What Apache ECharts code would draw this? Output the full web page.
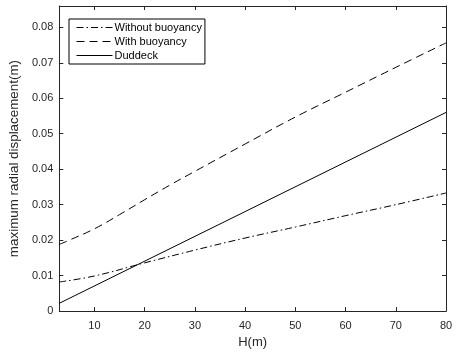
<!DOCTYPE html>
<html>
<head>
<meta charset="utf-8">
<script src="https://cdn.jsdelivr.net/npm/echarts@6/dist/echarts.min.js"></script>
<style>html,body{margin:0;padding:0;background:#fff}#c{width:458px;height:354px}</style>
</head>
<body>
<div id="c"></div>
<script>
var xTicks = [10, 20, 30, 40, 50, 60, 70, 80];
var yTicks = [0, 0.01, 0.02, 0.03, 0.04, 0.05, 0.06, 0.07, 0.08];

var xWithout = [3, 10, 20, 30, 40, 50, 60, 70, 80];
var yWithout = [0.0082, 0.0099, 0.0136, 0.0172, 0.0206, 0.0237, 0.0269, 0.0300, 0.0333];

var xWith = [3, 5, 10, 15, 20, 25, 30, 40, 50, 60, 70, 80];
var yWith = [0.0188, 0.0200, 0.0232, 0.0272, 0.0314, 0.0355, 0.0394, 0.0471, 0.0547, 0.0617, 0.0687, 0.0756];

var xDuddeck = [3, 80];
var yDuddeck = [0.0022, 0.0560];

var names = ['Without buoyancy', 'With buoyancy', 'Duddeck'];

function pairs(xs, ys) { return xs.map(function (x, i) { return [x, ys[i]]; }); }

var axisColor = '#262626';
var font = 'Liberation Sans, Arial, sans-serif';

var chart = echarts.init(document.getElementById('c'), null, { renderer: 'canvas' });
chart.setOption({
  animation: false,
  backgroundColor: '#fff',
  grid: { left: 57, right: 12, top: 6, bottom: 40, containLabel: false },
  legend: {
    orient: 'vertical',
    left: 69,
    top: 19,
    data: names,
    itemWidth: 36,
    itemHeight: 10,
    itemGap: 3,
    padding: [3, 3, 3, 7],
    borderColor: '#000',
    borderWidth: 1,
    backgroundColor: '#fff',
    itemStyle: { opacity: 0 },
    lineStyle: { width: 1 },
    textStyle: { fontFamily: font, fontSize: 11, color: '#000', padding: [0, 0, 0, -3] }
  },
  xAxis: [{
    type: 'value', min: 3, max: 80,
    name: 'H(m)', nameLocation: 'middle', nameGap: 24,
    nameTextStyle: { fontFamily: font, fontSize: 13, color: axisColor },
    axisLine: { show: true, lineStyle: { color: axisColor, width: 1 } },
    axisTick: { show: true, inside: true, length: 4, customValues: xTicks, lineStyle: { color: axisColor } },
    axisLabel: { customValues: xTicks, fontFamily: font, fontSize: 11, color: axisColor, margin: 9 },
    splitLine: { show: false }
  }, {
    type: 'value', min: 3, max: 80, position: 'top',
    axisLine: { show: true, onZero: false, lineStyle: { color: axisColor, width: 1 } },
    axisTick: { show: true, inside: true, length: 4, customValues: xTicks, lineStyle: { color: axisColor } },
    axisLabel: { show: false },
    splitLine: { show: false }
  }],
  yAxis: [{
    type: 'value', min: 0, max: 0.086,
    name: 'maximum radial displacement(m)', nameLocation: 'middle', nameGap: 26,
    nameTextStyle: { fontFamily: font, fontSize: 13.4, color: axisColor },
    axisLine: { show: true, lineStyle: { color: axisColor, width: 1 } },
    axisTick: { show: true, inside: true, length: 4, customValues: yTicks, lineStyle: { color: axisColor } },
    axisLabel: { customValues: yTicks, fontFamily: font, fontSize: 11, color: axisColor, margin: 6 },
    splitLine: { show: false }
  }, {
    type: 'value', min: 0, max: 0.086, position: 'right',
    axisLine: { show: true, onZero: false, lineStyle: { color: axisColor, width: 1 } },
    axisTick: { show: true, inside: true, length: 4, customValues: yTicks, lineStyle: { color: axisColor } },
    axisLabel: { show: false },
    splitLine: { show: false }
  }],
  series: [{
    name: names[0], type: 'line', smooth: 0.4, showSymbol: false, symbol: 'none',
    data: pairs(xWithout, yWithout),
    itemStyle: { color: '#000' },
    lineStyle: { color: '#000', width: 1, type: [7, 3, 1.5, 3] }
  }, {
    name: names[1], type: 'line', smooth: 0.4, showSymbol: false, symbol: 'none',
    data: pairs(xWith, yWith),
    itemStyle: { color: '#000' },
    lineStyle: { color: '#000', width: 1, type: [8, 5] }
  }, {
    name: names[2], type: 'line', showSymbol: false, symbol: 'none',
    data: pairs(xDuddeck, yDuddeck),
    itemStyle: { color: '#000' },
    lineStyle: { color: '#000', width: 1, type: 'solid' }
  }]
});
</script>
</body>
</html>
